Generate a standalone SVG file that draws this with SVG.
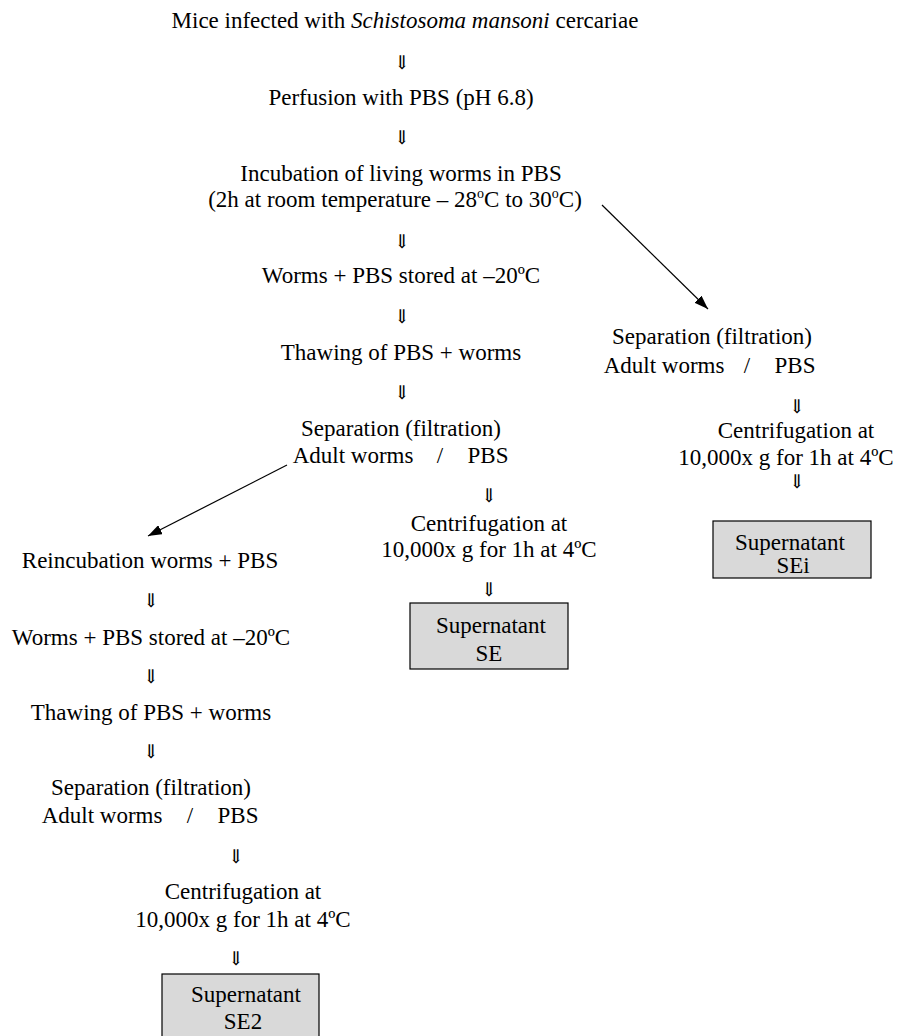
<svg xmlns="http://www.w3.org/2000/svg" width="897" height="1036" viewBox="0 0 897 1036">
<style>
text{font-family:"Liberation Serif","Times New Roman",serif;font-size:23px;fill:#000;text-anchor:middle}
.dn{font-family:"DejaVu Serif","DejaVu Sans",serif;font-size:19px}
.box{fill:#d9d9d9;stroke:#000;stroke-width:1.2}
.con{stroke:#000;stroke-width:1.2;fill:none}
</style>
<defs>
<marker id="ah" viewBox="0 0 14 10" refX="14" refY="5" markerWidth="14" markerHeight="10" markerUnits="userSpaceOnUse" orient="auto">
<path d="M0,0 L14,5 L0,10 Z" fill="#000"/>
</marker>
</defs>
<rect width="897" height="1036" fill="#fff"/>

<g id="connectors">
<line class="con" x1="602" y1="205" x2="708" y2="309" marker-end="url(#ah)"/>
<line class="con" x1="287" y1="465" x2="148" y2="536" marker-end="url(#ah)"/>
<text class="dn" x="402" y="69">⇓︎</text>
<text class="dn" x="402" y="144">⇓︎</text>
<text class="dn" x="402" y="248">⇓︎</text>
<text class="dn" x="402" y="323">⇓︎</text>
<text class="dn" x="402" y="399">⇓︎</text>
<text class="dn" x="489" y="502">⇓︎</text>
<text class="dn" x="489" y="596">⇓︎</text>
<text class="dn" x="797" y="413">⇓︎</text>
<text class="dn" x="797" y="488">⇓︎</text>
<text class="dn" x="151" y="607">⇓︎</text>
<text class="dn" x="151" y="683">⇓︎</text>
<text class="dn" x="151" y="758">⇓︎</text>
<text class="dn" x="236" y="863">⇓︎</text>
<text class="dn" x="236" y="965">⇓︎</text>
</g>

<g id="n1"><text x="405" y="28">Mice infected with <tspan font-style="italic">Schistosoma mansoni</tspan> cercariae</text></g>
<g id="n2"><text x="401" y="105">Perfusion with PBS (pH 6.8)</text></g>
<g id="n3"><text x="401" y="181">Incubation of living worms in PBS</text>
<text x="395" y="207">(2h at room temperature – 28<tspan font-size="14" dy="-9">o</tspan><tspan dy="9">C to 30</tspan><tspan font-size="14" dy="-9">o</tspan><tspan dy="9">C)</tspan></text></g>
<g id="n4"><text x="401" y="283">Worms + PBS stored at –20ºC</text></g>
<g id="n5"><text x="401" y="360">Thawing of PBS + worms</text></g>
<g id="n6"><text x="401" y="436">Separation (filtration)</text>
<text x="353" y="463">Adult worms</text><text x="440" y="463">/</text><text x="488" y="463">PBS</text></g>
<g id="n7"><text x="489" y="531">Centrifugation at</text>
<text x="489" y="557">10,000x g for 1h at 4ºC</text></g>
<g id="n8"><rect class="box" x="410" y="603" width="158" height="66"/>
<text x="491" y="633">Supernatant</text><text x="489" y="661">SE</text></g>

<g id="n9"><text x="712" y="344">Separation (filtration)</text>
<text x="664" y="373">Adult worms</text><text x="747" y="373">/</text><text x="795" y="373">PBS</text></g>
<g id="n10"><text x="796" y="438">Centrifugation at</text>
<text x="786" y="465">10,000x g for 1h at 4ºC</text></g>
<g id="n11"><rect class="box" x="713" y="521" width="158" height="57"/>
<text x="790" y="550">Supernatant</text><text x="793" y="573">SEi</text></g>

<g id="n12"><text x="150" y="568">Reincubation worms + PBS</text></g>
<g id="n13"><text x="151" y="645">Worms + PBS stored at –20ºC</text></g>
<g id="n14"><text x="151" y="720">Thawing of PBS + worms</text></g>
<g id="n15"><text x="151" y="795">Separation (filtration)</text>
<text x="102" y="823">Adult worms</text><text x="190" y="823">/</text><text x="238" y="823">PBS</text></g>
<g id="n16"><text x="243" y="899">Centrifugation at</text>
<text x="243" y="927">10,000x g for 1h at 4ºC</text></g>
<g id="n17"><rect class="box" x="162" y="974" width="157" height="70"/>
<text x="246" y="1002">Supernatant</text><text x="243" y="1029">SE2</text></g>
</svg>
